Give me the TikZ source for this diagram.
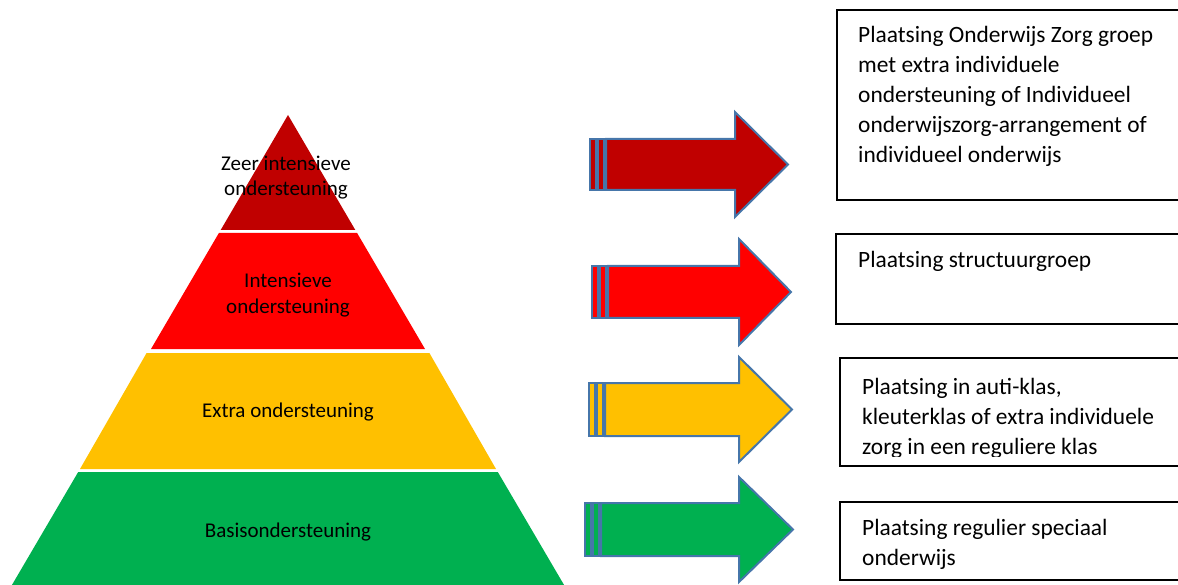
\documentclass[tikz,border=0pt]{standalone}
\usepackage{fontspec}
\setmainfont{Carlito}
\definecolor{darkred}{HTML}{C00000}
\definecolor{brightred}{HTML}{FF0000}
\definecolor{amber}{HTML}{FFC000}
\definecolor{leafgreen}{HTML}{00B050}
\definecolor{arrowline}{RGB}{70,118,170}
\begin{document}
\begin{tikzpicture}[x=1pt,y=-1pt,
  layer/.style={fill=#1,draw=none},
  pyrtext/.style={anchor=base,inner sep=0pt,font=\fontsize{21}{25}\selectfont},
  boxtext/.style={anchor=base west,inner sep=0pt,font=\fontsize{23.4}{30}\selectfont},
  infobox/.style={draw=black,line width=1.8pt,fill=white},
  arrowpart/.style={draw=arrowline,line width=2pt,line join=miter,fill=#1}]
\useasboundingbox (0,0) rectangle (1178,585);
\clip (0,0) rectangle (1178,585);
% pyramid layers
\fill[layer=darkred] (288,115) -- (355.3,230) -- (220.7,230) -- cycle;
\fill[layer=brightred] (218.9,233) -- (357.1,233) -- (425.0,349) -- (151.0,349) -- cycle;
\fill[layer=amber] (146.6,353) -- (429.4,353) -- (496.0,469) -- (80.0,469) -- cycle;
\fill[layer=leafgreen] (78.2,472) -- (497.8,472) -- (567,590) -- (9,590) -- cycle;
\node[pyrtext] (t1) at (286,171) {\parbox[t]{220pt}{\centering Zeer intensieve\\ondersteuning}};
\node[pyrtext] (t2) at (288,288) {\parbox[t]{220pt}{\centering Intensieve\\ondersteuning}};
\node[pyrtext] (t3) at (288,417) {Extra ondersteuning};
\node[pyrtext] (t4) at (288,537) {Basisondersteuning};
% striped arrows: x0, shaft top, shaft bottom, head x, head top, head bottom, tip x, colour
\foreach \xo/\st/\sb/\hx/\ht/\hb/\tx/\col in {
  590/139/190/735/112/217/788/darkred,
  592/266/318/739/239/345/791/brightred,
  589/383/436/739/357/462/792/amber,
  585/503/556/739/477/582/793/leafgreen}{
  \draw[arrowpart=\col] (\xo,\st) rectangle (\xo+6,\sb);
  \draw[arrowpart=\col] (\xo+8,\st) rectangle (\xo+14,\sb);
  \draw[arrowpart=\col] (\xo+16,\st) -- (\hx,\st) -- (\hx,\ht) -- (\tx,{(\st+\sb)/2}) -- (\hx,\hb) -- (\hx,\sb) -- (\xo+16,\sb) -- cycle;
}
% boxes
\draw[infobox] (837,10) rectangle (1190,200);
\draw[infobox] (836,234) rectangle (1190,324);
\draw[infobox] (840,358) rectangle (1190,466);
\draw[infobox] (840,502) rectangle (1190,580);
\node[boxtext] (b1) at (858,43) {\parbox[t]{330pt}{\raggedright Plaatsing Onderwijs Zorg groep\\met extra individuele\\ondersteuning of Individueel\\onderwijszorg-arrangement of\\individueel onderwijs}};
\node[boxtext] (b2) at (858,268) {Plaatsing structuurgroep};
\begin{scope}
\clip (842,360) rectangle (1190,456);
\node[boxtext] (b3) at (862,394) {\parbox[t]{330pt}{\raggedright Plaatsing in auti-klas,\\kleuterklas of extra individuele\\zorg in een reguliere klas}};
\end{scope}
\node[boxtext] (b4) at (862,535) {\parbox[t]{330pt}{\raggedright Plaatsing regulier speciaal\\onderwijs}};
\end{tikzpicture}
\end{document}
